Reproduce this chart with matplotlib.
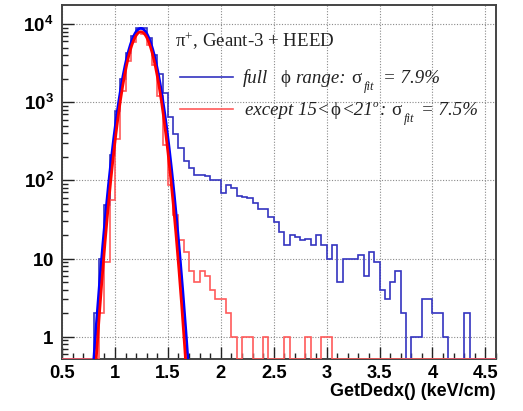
import numpy as np
import matplotlib
matplotlib.use("Agg")
import matplotlib.pyplot as plt
from matplotlib.lines import Line2D
from matplotlib.ticker import FixedLocator, FixedFormatter, MultipleLocator, LogLocator, NullFormatter

plt.rcParams['mathtext.fontset'] = 'custom'
plt.rcParams['mathtext.rm'] = 'Liberation Serif'
plt.rcParams['mathtext.it'] = 'Liberation Serif:italic'
plt.rcParams['mathtext.bf'] = 'Liberation Sans:bold'

# ---- data -------------------------------------------------------------
bin_lo = 0.5
bin_hi = 4.6
bin_width = 0.05

counts_full = [
    0, 0, 0, 0, 0, 0, 2, 10, 48, 210,            # 0.50 - 1.00
    780, 1950, 4300, 7000, 9000, 8800, 6600, 4000, 2300, 1300,  # 1.00 - 1.50
    640, 390, 257, 175, 145, 117, 117, 115, 101, 100,   # 1.50 - 2.00
    68, 87, 79, 63, 61, 60, 51, 43, 43, 34,      # 2.00 - 2.50
    29, 22, 15, 20, 19, 17, 18, 15, 20, 15,      # 2.50 - 3.00
    10, 15, 5, 10, 10, 10, 11, 6, 12, 9,         # 3.00 - 3.50
    4, 3, 5, 7, 2, 0, 1, 1, 3, 3,                # 3.50 - 4.00
    2, 2, 1, 0, 0, 0, 2, 0, 0, 0,                # 4.00 - 4.50
    0, 0,                                        # 4.50 - 4.60
]
counts_cut = [
    0, 0, 0, 0, 0, 0, 0, 2, 9, 56,
    340, 1400, 3400, 5900, 7900, 7500, 5400, 3000, 1200, 280,
    87, 36, 17, 12, 7, 5, 7, 6, 4, 3,
    3, 2, 1, 0, 1, 1, 0, 0, 1, 0,
    0, 0, 1, 0, 0, 0, 1, 0, 0, 1,
    1, 0, 0, 0, 0, 0, 0, 0, 0, 0,
    0, 0, 0, 0, 0, 0, 0, 0, 0, 0,
    0, 0, 0, 0, 0, 0, 0, 0, 0, 0,
    0, 0,
]

# Gaussian fit parameters (amplitude, mean, sigma)
fit_full = (8790.0, 1.245, 0.1007)
fit_cut = (7950.0, 1.245, 0.0961)
sigma_full_pct = '7.9%'
sigma_cut_pct = '7.5%'

x_ticks = [0.5, 1, 1.5, 2, 2.5, 3, 3.5, 4, 4.5]
x_tick_labels = ['0.5', '1', '1.5', '2', '2.5', '3', '3.5', '4', '4.5']
y_ticks = [1, 10, 100, 1000, 10000]
y_tick_labels = [r'$\mathbf{1}$', r'$\mathbf{10}$', r'$\mathbf{10^{2}}$',
                 r'$\mathbf{10^{3}}$', r'$\mathbf{10^{4}}$']

title_text = r'$\mathrm{\pi^{+}}$, Geant-3 + HEED'
x_label = 'GetDedx() (keV/cm)'

# ---- figure -----------------------------------------------------------
W, H = 523, 411
fig = plt.figure(figsize=(W / 100, H / 100), dpi=100)
fig.patch.set_facecolor('white')

def fx(px):
    return px / W

def fy(py):
    return 1 - py / H

ax = fig.add_axes([fx(62), fy(358.5), fx(496) - fx(62), fy(4.7) - fy(358.5)])

edges = np.arange(len(counts_full) + 1) * bin_width + bin_lo
ymin, ymax = 0.526, 17650

def plot_vals(c):
    c = np.asarray(c, dtype=float)
    return np.where(c > 0, c, ymin)

ax.stairs(plot_vals(counts_full), edges, baseline=None, color='#3434c0', lw=1.2, zorder=3)
ax.stairs(plot_vals(counts_cut), edges, baseline=None, color='#ff5a5a', lw=1.2, zorder=4)

xf = np.linspace(0.7, 1.8, 500)
for (A, mu, sg), col, z in [(fit_full, '#0000ff', 5), (fit_cut, '#ff0000', 6)]:
    ax.plot(xf, A * np.exp(-0.5 * ((xf - mu) / sg) ** 2), color=col, lw=2.0, zorder=z)

ax.set_yscale('log')
ax.set_xlim(bin_lo, bin_hi)
ax.set_ylim(ymin, ymax)

ax.xaxis.set_major_locator(FixedLocator(x_ticks))
ax.xaxis.set_major_formatter(FixedFormatter(x_tick_labels))
ax.xaxis.set_minor_locator(MultipleLocator(0.1))
ax.yaxis.set_major_locator(FixedLocator(y_ticks))
ax.yaxis.set_major_formatter(FixedFormatter(y_tick_labels))
ax.yaxis.set_minor_locator(LogLocator(base=10, subs=np.arange(2, 10)))
ax.yaxis.set_minor_formatter(NullFormatter())

ax.tick_params(which='both', direction='in', top=False, right=False, width=1.0, color='#222222')
ax.tick_params(which='major', length=8.5)
ax.tick_params(which='minor', length=4.3)
ax.tick_params(axis='x', which='major', pad=5.0, labelsize=13.2)
ax.tick_params(axis='y', which='major', pad=6, labelsize=13.5)
for lab in ax.get_xticklabels():
    lab.set_fontfamily('Liberation Sans')
    lab.set_fontweight('bold')

ax.grid(which='major', linestyle=(0, (1, 1.5)), color='#8a8a8a', lw=0.8, zorder=1)
for s in ax.spines.values():
    s.set_linewidth(1.4)
    s.set_color('#444444')

fig.text(fx(496), fy(391), x_label, ha='right', va='center',
         fontfamily='Liberation Sans', fontweight='bold', fontsize=13)

fig.text(fx(175), fy(47), title_text, ha='left', va='baseline',
         fontfamily='Liberation Serif', fontsize=13.6, color='#222222')

# ---- legend built from text pieces -------------------------------------
renderer = fig.canvas.get_renderer()
TXT = '#222222'
LEG_FS = 13.6
SUB_FS = 9.0

def put(x, y, s, italic=True, size=LEG_FS, dy=0.0):
    t = fig.text(fx(x), fy(y + dy), s, ha='left', va='baseline',
                 fontfamily='Liberation Serif', fontstyle='italic' if italic else 'normal',
                 fontsize=size, color=TXT)
    bb = t.get_window_extent(renderer)
    return bb.x1

fig.add_artist(Line2D([fx(180), fx(233)], [fy(77), fy(77)], color='#3434c0', lw=1.2))
fig.add_artist(Line2D([fx(180), fx(233)], [fy(109), fy(109)], color='#ff5a5a', lw=1.2))

# line 1: full  phi range: sigma_fit = 7.9%
b1 = 83
e = put(243, b1, 'full')
e = put(e + 12, b1, r'$\mathrm{\phi}$', italic=False)
e = put(e + 4, b1, 'range:')
e = put(e + 5, b1, r'$\mathrm{\sigma}$', italic=False)
e = put(e + 1, b1, 'fit', size=SUB_FS, dy=7)
put(e + 9, b1, '= ' + sigma_full_pct)

# line 2: except 15<phi<21deg: sigma_fit = 7.5%
b2 = 115
e = put(245, b2, 'except 15<')
e = put(e + 0.5, b2, r'$\mathrm{\phi}$', italic=False)
e = put(e + 0.5, b2, '<21')
e = put(e - 1, b2, 'o', size=8.0, dy=-8)
e = put(e + 1, b2, ':')
e = put(e + 5, b2, r'$\mathrm{\sigma}$', italic=False)
e = put(e + 1, b2, 'fit', size=SUB_FS, dy=7)
put(e + 7, b2, '= ' + sigma_cut_pct)

fig.savefig('out.png', dpi=100, facecolor='white')
